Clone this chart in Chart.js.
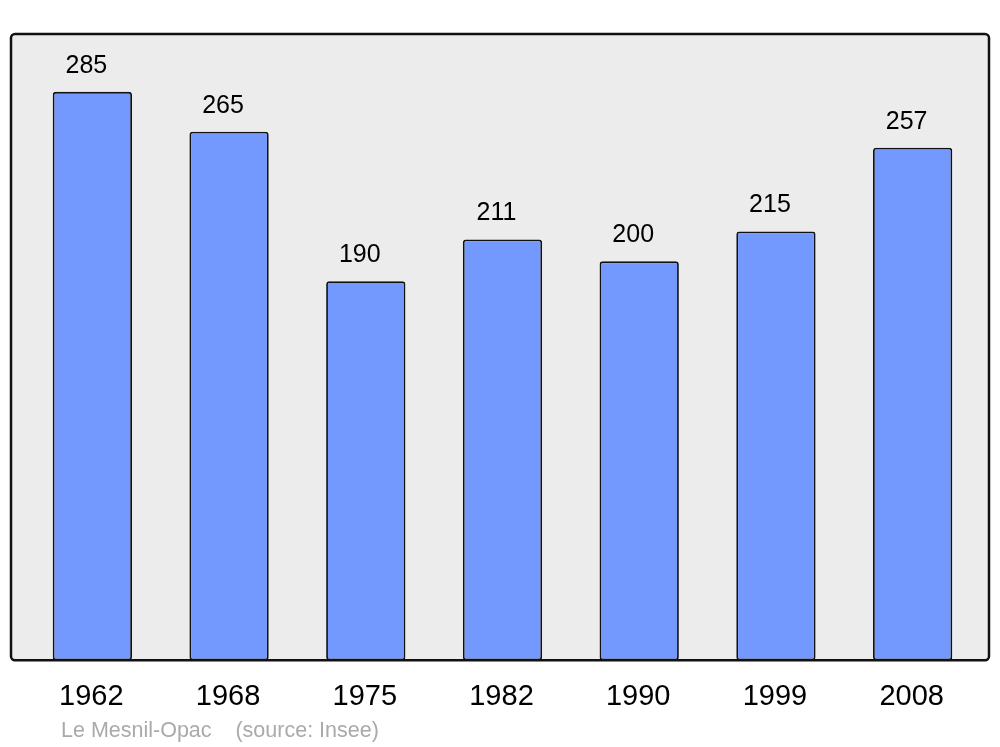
<!DOCTYPE html>
<html>
<head>
<meta charset="utf-8">
<script src="https://cdn.jsdelivr.net/npm/chart.js@4/dist/chart.umd.min.js"></script>
<style>
  html, body { margin: 0; padding: 0; background: #fff; }
</style>
</head>
<body>
<canvas id="pop-chart" width="1000" height="747"></canvas>
<script>
const years = ['1962', '1968', '1975', '1982', '1990', '1999', '2008'];
const population = [285, 265, 190, 211, 200, 215, 257];
const caption = 'Le Mesnil-Opac    (source: Insee)';

// grey frame behind the bars, black rounded border
const framePlugin = {
    id: 'frame',
    beforeDatasetsDraw(chart) {
        const a = chart.chartArea;
        const c = chart.ctx;
        const x0 = a.left - 13, x1 = a.right + 8, y0 = a.top, y1 = a.bottom;
        c.save();
        c.beginPath();
        c.roundRect(x0, y0, x1 - x0, y1 - y0, 4);
        c.fillStyle = '#ececec';
        c.fill();
        c.restore();
    },
    afterDatasetsDraw(chart) {
        const a = chart.chartArea;
        const c = chart.ctx;
        const x0 = a.left - 13, x1 = a.right + 8, y0 = a.top, y1 = a.bottom;
        c.save();
        c.beginPath();
        c.roundRect(x0, y0, x1 - x0, y1 - y0, 4);
        c.lineWidth = 2.5;
        c.strokeStyle = '#111';
        c.stroke();

        // values above bars
        c.font = '25px "Liberation Sans", Arial, sans-serif';
        c.fillStyle = '#000';
        c.textAlign = 'center';
        c.textBaseline = 'alphabetic';
        const meta = chart.getDatasetMeta(0);
        meta.data.forEach((bar, i) => {
            c.fillText(String(population[i]), bar.x - 6, bar.y - 19);
        });

        // caption
        c.font = '21.5px "Liberation Sans", Arial, sans-serif';
        c.fillStyle = '#aaaaaa';
        c.textAlign = 'left';
        c.textBaseline = 'middle';
        c.fillText(caption, 61, 731);
        c.restore();
    }
};

const ctx = document.getElementById('pop-chart').getContext('2d');
const myChart = new Chart(ctx, {
    type: 'bar',
    data: {
        labels: years,
        datasets: [{
            data: population,
            backgroundColor: '#7399ff',
            borderColor: '#111',
            borderWidth: 1.8,
            borderRadius: 3,
            borderSkipped: false,
            barPercentage: 0.58,
            categoryPercentage: 1
        }]
    },
    options: {
        responsive: false,
        animation: false,
        layout: {
            padding: { left: 24, right: 19, top: 34, bottom: 22 }
        },
        plugins: {
            legend: { display: false },
            tooltip: { enabled: false }
        },
        scales: {
            y: {
                display: false,
                min: 0,
                max: 314
            },
            x: {
                grid: { display: false },
                border: { display: false },
                ticks: {
                    color: '#000',
                    padding: 11,
                    labelOffset: -1,
                    font: { family: '"Liberation Sans", Arial, sans-serif', size: 29 }
                }
            }
        }
    },
    plugins: [framePlugin]
});
</script>
</body>
</html>
